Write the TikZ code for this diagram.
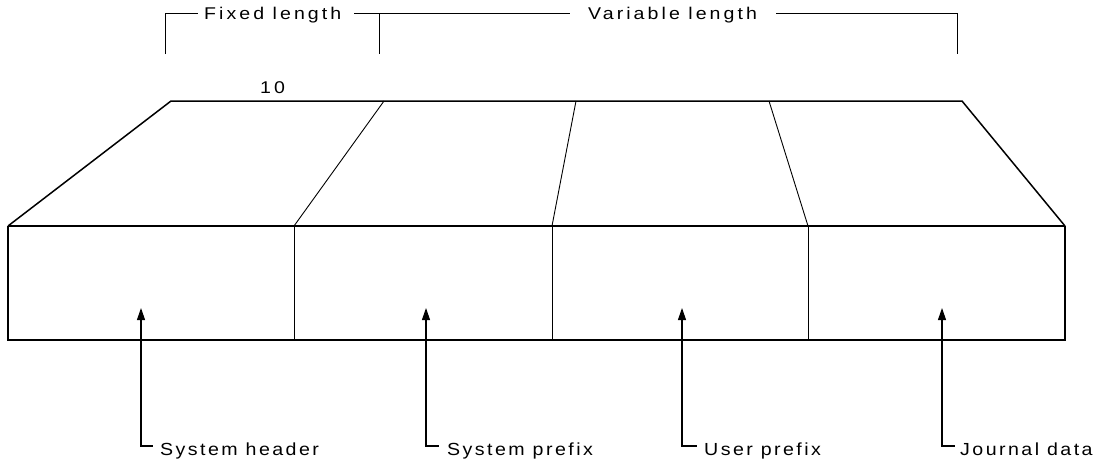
\documentclass[tikz,border=0pt]{standalone}
\usepackage{fontspec}
\setmainfont{Liberation Sans}
\newfontfamily\topfont{Liberation Sans}[FakeStretch=1.15,LetterSpace=18]
\newfontfamily\botfont{Liberation Sans}[FakeStretch=1.12,LetterSpace=14]
\usetikzlibrary{arrows.meta}
\begin{document}
\begin{tikzpicture}[x=1pt,y=-1pt,
  outline/.style={line width=1.5pt,line join=miter},
  thin/.style={line width=0.9pt},
  toplbl/.style={anchor=base west,inner sep=0pt,font=\topfont\fontsize{17}{20}\selectfont},
  lbl/.style={anchor=base west,inner sep=0pt,font=\botfont\fontsize{17.5}{20}\selectfont},
  ptr/.style={line width=1.1pt,{Triangle[length=12pt,width=8pt]}-}]
\useasboundingbox (0,0) rectangle (1098,461);
% brackets
\node[toplbl] (fl) at (204,19.5) {Fixed length};
\node[toplbl] (vl) at (588,19.5) {Variable length};
\draw[thin] (165,54) -- (165,13) -- (198,13);
\draw[thin] (354,13) -- (379,13) -- (379,54);
\draw[thin] (379,13) -- (570,13);
\draw[thin] (776,13) -- (957,13) -- (957,54);
\node[toplbl] (ten) at (260,93) {10};
% top face
\coordinate (t0) at (171,101);
\coordinate (t1) at (384,101);
\coordinate (t2) at (576,101);
\coordinate (t3) at (769,101);
\coordinate (t4) at (962,101);
\coordinate (f0) at (8,226);
\coordinate (f1) at (294,226);
\coordinate (f2) at (552,226);
\coordinate (f3) at (808,226);
\coordinate (f4) at (1065,226);
\coordinate (b0) at (8,340);
\coordinate (b1) at (294,340);
\coordinate (b2) at (552,340);
\coordinate (b3) at (808,340);
\coordinate (b4) at (1065,340);
\draw[outline] (f0) -- (t0) -- (t4) -- (f4);
\draw[thin] (t1) -- (f1);
\draw[thin] (t2) -- (f2);
\draw[thin] (t3) -- (f3);
\draw[outline] (f0) -- (f4);
\draw[outline] (f0) -- (b0);
\draw[outline] (f4) -- (b4);
\draw[line width=2.2pt] ([xshift=-0.75pt]b0) -- ([xshift=0.75pt]b4);
\draw[thin] (f1) -- (b1);
\draw[thin] (f2) -- (b2);
\draw[thin] (f3) -- (b3);
% pointers
\node[lbl] (sh) at (160,455) {System header};
\node[lbl] (sp) at (447,455) {System prefix};
\node[lbl] (up) at (704,455) {User prefix};
\node[lbl] (jd) at (960,455) {Journal data};
\coordinate (a1) at (141,308);
\coordinate (a2) at (426,308);
\coordinate (a3) at (682,308);
\coordinate (a4) at (942,308);
\draw[ptr] (a1) -- (141,446) -- (153,446);
\draw[ptr] (a2) -- (426,446) -- (439,446);
\draw[ptr] (a3) -- (682,446) -- (697,446);
\draw[ptr] (a4) -- (942,446) -- (955,446);
\end{tikzpicture}
\end{document}
